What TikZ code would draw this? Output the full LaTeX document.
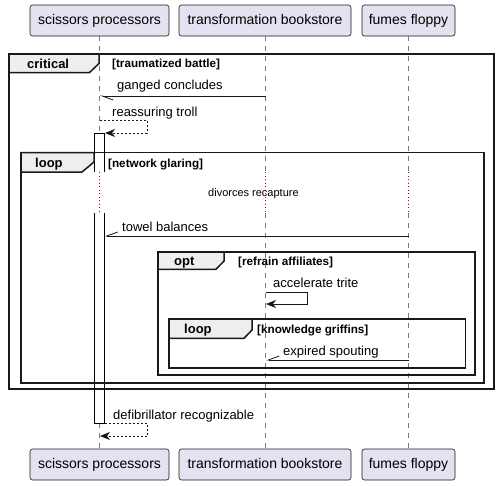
\documentclass[tikz,border=0pt]{standalone}
\usepackage{fontspec}
\setmainfont{Liberation Sans}
\usetikzlibrary{arrows.meta}
\definecolor{partfill}{HTML}{E2E2F0}
\definecolor{partline}{HTML}{181818}
\definecolor{tabfill}{HTML}{EEEEEE}
\definecolor{delayc}{HTML}{A80036}
\definecolor{lifec}{HTML}{7A7A7A}
\begin{document}
\begin{tikzpicture}[x=1pt,y=-1pt,
  part/.style={draw=partline, fill=partfill, line width=0.6pt, rounded corners=2.5pt, inner sep=0pt,
    font=\fontsize{14}{16}\selectfont, text height=10pt, text depth=3pt, minimum height=31pt},
  life/.style={draw=lifec, line width=0.6pt, dash pattern=on 5pt off 5pt},
  delayl/.style={draw=delayc, line width=0.8pt, dash pattern=on 1pt off 2.5pt},
  framebox/.style={draw=black!90, line width=1.5pt},
  tab/.style={draw=black!90, line width=1.5pt, fill=tabfill, line join=miter},
  ftitle/.style={font=\fontsize{13}{15}\selectfont\bfseries, inner sep=0pt, anchor=base west},
  fcond/.style={font=\fontsize{11.7}{13}\selectfont\bfseries, inner sep=0pt, anchor=base west},
  msglbl/.style={font=\fontsize{13}{15}\selectfont, inner sep=0pt, anchor=base west},
  dlbl/.style={font=\fontsize{11}{13}\selectfont, inner sep=0pt, anchor=base west},
  msg/.style={line width=1pt, draw=partline},
  sync/.style={msg, -{Stealth[length=10pt,width=8pt,inset=3pt]}},
  ret/.style={sync, dash pattern=on 2pt off 2pt},
  halfl/.style={msg, -{Straight Barb[harpoon,length=11pt,width=8pt,line width=0.8pt]}},
  halfr/.style={msg, -{Straight Barb[harpoon,swap,length=11pt,width=8pt,line width=0.8pt]}},
  actline/.style={draw=black, line width=1pt}
]
\useasboundingbox (0,0) rectangle (500,485);

% participants
\node[part, minimum width=139pt] (p1t) at (99.5,20.5) {scissors processors};
\node[part, minimum width=172pt] (p2t) at (265,20.5) {transformation bookstore};
\node[part, minimum width=93pt] (p3t) at (408.5,20.5) {fumes floppy};
\node[part, minimum width=139pt] (p1b) at (99.5,464.5) {scissors processors};
\node[part, minimum width=172pt] (p2b) at (265,464.5) {transformation bookstore};
\node[part, minimum width=93pt] (p3b) at (408.5,464.5) {fumes floppy};

% delay bounds
\coordinate (dA) at (0,172);
\coordinate (dB) at (0,213);

% lifelines
\foreach \p in {p1,p2,p3}{
  \draw[life] (\p t.south) -- (\p t.south |- dA);
  \draw[delayl] (\p t.south |- dA) -- (\p t.south |- dB);
  \draw[life] (\p t.south |- dB) -- (\p b.north);
}

% activation
\fill[white] (94,133) rectangle (104.5,172);
\draw[actline] (94,172) -- (94,133) -- (104.5,133) -- (104.5,172);
\fill[white] (94,213) rectangle (104.5,423);
\draw[actline] (94,213) -- (94,423) -- (104.5,423) -- (104.5,213);

% frames
% critical
\draw[tab] (9,54) -- (99,54) -- (99,63.5) -- (89.5,72.5) -- (9,72.5);
\draw[framebox] (9,54) rectangle (494,389);
\node[ftitle] (fcrit) at (27,68) {critical};
\node[fcond] (ccrit) at (112,67) {[traumatized battle]};
% loop 1
\draw[tab] (21,152.5) -- (94,152.5) -- (94,162) -- (82,172) -- (21,172);
\draw[framebox] (21,152.5) rectangle (484,383);
\node[ftitle] (floop1) at (35,167.5) {loop};
\node[fcond] (cloop1) at (108,167) {[network glaring]};
% opt
\draw[tab] (158,252) -- (224,252) -- (224,261) -- (216,269.3) -- (158,269.3);
\draw[framebox] (158,252) rectangle (475,375);
\node[ftitle] (fopt) at (174,265) {opt};
\node[fcond] (copt) at (238,265) {[refrain affiliates]};
% loop 2
\draw[tab] (169,319) -- (252,319) -- (252,330) -- (244,338.3) -- (169,338.3);
\draw[framebox] (169,319) rectangle (465.7,368);
\node[ftitle] (floop2) at (184,333) {loop};
\node[fcond] (cloop2) at (257,333) {[knowledge griffins]};

% messages
\coordinate (m1s) at (266,96);
\coordinate (m1e) at (100,96);
\draw[halfl] (m1s) -- (m1e);
\node[msglbl] (l1) at (117,89) {ganged concludes};

\coordinate (m2s) at (100,120);
\coordinate (m2e) at (105,133);
\draw[ret] (m2s) -- (147,120) -- (147,133) -- (m2e);
\node[msglbl] (l2) at (112,116) {reassuring troll};

\node[dlbl] (ld) at (208,196) {divorces recapture};

\coordinate (m3s) at (409,236);
\coordinate (m3e) at (104.5,236);
\draw[halfr] (m3s) -- (m3e);
\node[msglbl] (l3) at (122,231) {towel balances};

\coordinate (m4s) at (266,292);
\coordinate (m4e) at (266,304);
\draw[sync] (m4s) -- (307,292) -- (307,304) -- (m4e);
\node[msglbl] (l4) at (273,287.5) {accelerate trite};

\coordinate (m5s) at (409,360);
\coordinate (m5e) at (266,360);
\draw[halfr] (m5s) -- (m5e);
\node[msglbl] (l5) at (283,355) {expired spouting};

\coordinate (m6s) at (104.5,423);
\coordinate (m6e) at (100,436);
\draw[ret] (m6s) -- (147,423) -- (147,436) -- (m6e);
\node[msglbl] (l6) at (113,419) {defibrillator recognizable};
\end{tikzpicture}
\end{document}
